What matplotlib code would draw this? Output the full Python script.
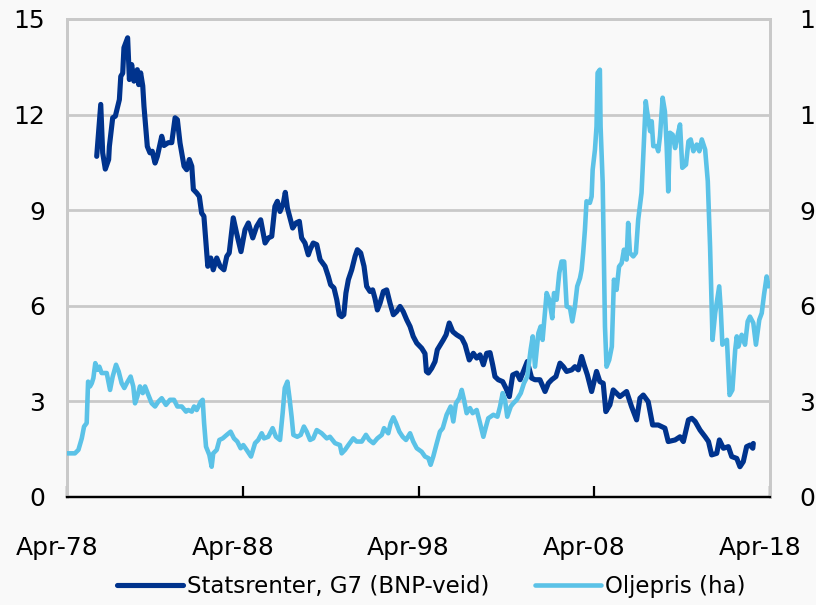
import matplotlib
matplotlib.use("Agg")
import matplotlib.pyplot as plt
import matplotlib.transforms as mtransforms

# ---- data (decimal years, values) ----
g7_x = [1979.94, 1980.17, 1980.28, 1980.43, 1980.62, 1980.66, 1980.85, 1981.00, 1981.23, 1981.31,
        1981.42, 1981.49, 1981.70, 1981.80, 1981.93, 1982.06, 1982.25, 1982.33, 1982.44, 1982.56,
        1982.63, 1982.82, 1982.97, 1983.10, 1983.26, 1983.39, 1983.64, 1983.77, 1984.01, 1984.21,
        1984.40, 1984.53, 1984.68, 1984.91, 1985.06, 1985.21, 1985.35, 1985.44, 1985.63, 1985.78,
        1985.91, 1986.04, 1986.26, 1986.43, 1986.57, 1986.77, 1986.96, 1987.18, 1987.34, 1987.48,
        1987.71, 1987.90, 1988.15, 1988.38, 1988.57, 1988.82, 1989.04, 1989.27, 1989.52, 1989.71,
        1989.90, 1990.08, 1990.22, 1990.37, 1990.56, 1990.67, 1990.79, 1990.94, 1991.09, 1991.28,
        1991.47, 1991.60, 1991.79, 1991.98, 1992.08, 1992.26, 1992.46, 1992.65, 1992.93, 1993.12,
        1993.25, 1993.44, 1993.60, 1993.74, 1993.88, 1994.00, 1994.12, 1994.26, 1994.45, 1994.64,
        1994.77, 1994.96, 1995.15, 1995.30, 1995.49, 1995.64, 1995.77, 1995.91, 1996.06, 1996.25,
        1996.44, 1996.63, 1996.82, 1997.01, 1997.20, 1997.38, 1997.58, 1997.77, 1997.95, 1998.15,
        1998.43, 1998.62, 1998.70, 1998.81, 1999.00, 1999.19, 1999.32, 1999.43, 1999.66, 1999.82,
        2000.00, 2000.20, 2000.42, 2000.71, 2000.90, 2001.14, 2001.37, 2001.56, 2001.75, 2001.94,
        2002.13, 2002.32, 2002.47, 2002.60, 2002.79, 2003.04, 2003.23, 2003.42, 2003.61, 2003.84,
        2004.03, 2004.22, 2004.44, 2004.69, 2004.88, 2005.16, 2005.45, 2005.64, 2005.83, 2006.07,
        2006.30, 2006.49, 2006.68, 2006.97, 2007.15, 2007.34, 2007.53, 2007.67, 2007.86, 2008.10,
        2008.38, 2008.57, 2008.76, 2008.91, 2009.14, 2009.33, 2009.71, 2010.09, 2010.37, 2010.66,
        2010.85, 2011.04, 2011.32, 2011.57, 2011.89, 2012.27, 2012.46, 2012.85, 2013.13, 2013.32,
        2013.61, 2013.80, 2013.99, 2014.27, 2014.56, 2014.75, 2014.93, 2015.22, 2015.37, 2015.60,
        2015.88, 2016.07, 2016.36, 2016.54, 2016.73, 2016.92, 2017.11, 2017.27, 2017.30]
g7_y = [10.69, 12.32, 10.80, 10.29, 10.59, 11.00, 11.90, 11.95, 12.47, 13.20,
        13.30, 14.10, 14.41, 13.10, 13.57, 13.05, 13.41, 12.94, 13.31, 12.90,
        12.26, 11.00, 10.80, 10.85, 10.48, 10.69, 11.32, 11.03, 11.12, 11.12,
        11.90, 11.84, 11.11, 10.38, 10.27, 10.59, 10.38, 9.65, 9.54, 9.43,
        8.91, 8.81, 7.24, 7.50, 7.13, 7.50, 7.24, 7.13, 7.55, 7.66,
        8.76, 8.28, 7.70, 8.39, 8.60, 8.13, 8.49, 8.70, 7.97, 8.13,
        8.18, 9.12, 9.28, 8.96, 9.22, 9.56, 9.07, 8.76, 8.44, 8.60,
        8.65, 8.13, 7.97, 7.60, 7.76, 7.97, 7.92, 7.45, 7.24, 6.92,
        6.66, 6.56, 6.19, 5.72, 5.66, 5.72, 6.40, 6.82, 7.13, 7.55,
        7.76, 7.66, 7.24, 6.61, 6.45, 6.50, 6.24, 5.87, 6.08, 6.45,
        6.50, 6.08, 5.72, 5.82, 5.98, 5.82, 5.56, 5.35, 5.04, 4.83,
        4.67, 4.50, 3.94, 3.89, 4.04, 4.25, 4.62, 4.72, 4.93, 5.09,
        5.46, 5.19, 5.09, 4.99, 4.78, 4.30, 4.51, 4.36, 4.46, 4.15,
        4.51, 4.53, 4.15, 3.78, 3.68, 3.62, 3.41, 3.15, 3.83, 3.89,
        3.68, 3.94, 4.25, 3.73, 3.68, 3.68, 3.31, 3.57, 3.68, 3.78,
        4.20, 4.09, 3.94, 3.99, 4.09, 3.99, 4.41, 4.15, 3.83, 3.31,
        3.94, 3.62, 3.57, 2.68, 2.89, 3.36, 3.15, 3.31, 2.84, 2.42,
        3.10, 3.20, 2.99, 2.26, 2.26, 2.16, 1.74, 1.79, 1.89, 1.74,
        2.42, 2.47, 2.37, 2.10, 1.89, 1.74, 1.32, 1.37, 1.79, 1.53,
        1.58, 1.27, 1.21, 0.95, 1.11, 1.58, 1.63, 1.53, 1.68]

oil_x = [1978.23, 1978.70, 1978.90, 1979.09, 1979.22, 1979.37, 1979.45, 1979.56, 1979.66, 1979.75,
         1979.86, 1979.97, 1980.09, 1980.22, 1980.51, 1980.70, 1980.85, 1981.04, 1981.19, 1981.36,
         1981.51, 1981.65, 1981.87, 1982.02, 1982.12, 1982.25, 1982.40, 1982.56, 1982.69, 1982.88,
         1983.07, 1983.26, 1983.44, 1983.64, 1983.88, 1984.11, 1984.34, 1984.53, 1984.78, 1985.02,
         1985.15, 1985.35, 1985.48, 1985.63, 1985.86, 1985.97, 1986.05, 1986.16, 1986.35, 1986.48,
         1986.57, 1986.77, 1986.92, 1987.11, 1987.34, 1987.56, 1987.75, 1987.94, 1988.13, 1988.28,
         1988.47, 1988.72, 1988.95, 1989.13, 1989.33, 1989.46, 1989.70, 1989.95, 1990.14, 1990.37,
         1990.52, 1990.64, 1990.79, 1990.90, 1991.03, 1991.13, 1991.35, 1991.55, 1991.73, 1991.89,
         1992.08, 1992.26, 1992.46, 1992.74, 1993.03, 1993.21, 1993.50, 1993.78, 1993.88, 1994.07,
         1994.26, 1994.54, 1994.73, 1995.02, 1995.26, 1995.45, 1995.68, 1995.91, 1996.16, 1996.29,
         1996.53, 1996.67, 1996.82, 1996.97, 1997.16, 1997.35, 1997.54, 1997.77, 1997.95, 1998.15,
         1998.43, 1998.62, 1998.81, 1998.94, 1999.09, 1999.29, 1999.47, 1999.63, 1999.85, 2000.08,
         2000.23, 2000.38, 2000.57, 2000.71, 2000.84, 2000.99, 2001.18, 2001.33, 2001.56, 2001.75,
         2001.94, 2002.09, 2002.22, 2002.51, 2002.74, 2002.89, 2003.04, 2003.17, 2003.30, 2003.50,
         2003.64, 2003.84, 2004.07, 2004.25, 2004.44, 2004.63, 2004.75, 2004.88, 2005.07, 2005.20,
         2005.31, 2005.54, 2005.69, 2005.86, 2005.96, 2006.11, 2006.26, 2006.39, 2006.54, 2006.68,
         2006.87, 2007.00, 2007.15, 2007.28, 2007.44, 2007.53, 2007.62, 2007.72, 2007.81, 2008.00,
         2008.10, 2008.16, 2008.29, 2008.38, 2008.44, 2008.57, 2008.61, 2008.73, 2008.86, 2008.95,
         2009.10, 2009.25, 2009.37, 2009.52, 2009.66, 2009.81, 2009.94, 2010.09, 2010.18, 2010.28,
         2010.47, 2010.62, 2010.75, 2010.94, 2011.03, 2011.18, 2011.24, 2011.43, 2011.52, 2011.61,
         2011.80, 2011.89, 2011.99, 2012.14, 2012.27, 2012.37, 2012.46, 2012.56, 2012.71, 2012.85,
         2012.98, 2013.13, 2013.26, 2013.47, 2013.61, 2013.74, 2013.89, 2014.08, 2014.23, 2014.37,
         2014.56, 2014.71, 2014.84, 2014.98, 2015.13, 2015.36, 2015.45, 2015.54, 2015.80, 2015.95,
         2016.11, 2016.27, 2016.36, 2016.45, 2016.64, 2016.83, 2016.98, 2017.11, 2017.30, 2017.45,
         2017.64, 2017.78, 2017.91, 2018.06, 2018.16, 2018.25]
oil_y = [13.7, 13.7, 14.8, 18.4, 22.1, 23.2, 36.2, 34.7, 35.7, 37.3,
         42.0, 39.9, 40.9, 38.9, 38.9, 33.6, 37.8, 41.5, 39.4, 35.7,
         34.2, 35.7, 37.8, 34.7, 29.4, 31.5, 34.7, 32.6, 34.7, 32.0,
         29.4, 28.4, 29.9, 31.0, 28.9, 30.5, 30.5, 28.4, 28.4, 26.8,
         27.3, 26.8, 28.4, 27.3, 29.9, 30.5, 23.2, 15.8, 13.2, 9.5,
         13.7, 14.8, 17.9, 18.4, 19.5, 20.5, 18.4, 17.4, 15.3, 16.3,
         14.8, 12.7, 16.9, 17.9, 20.0, 18.4, 18.9, 21.6, 18.9, 17.9,
         26.3, 34.2, 36.2, 31.5, 25.2, 19.5, 18.9, 19.5, 22.1, 20.5,
         17.9, 18.4, 21.0, 20.0, 18.4, 18.9, 16.9, 16.3, 13.7, 14.8,
         16.3, 18.4, 17.4, 17.4, 19.5, 17.9, 16.9, 18.4, 19.5, 21.6,
         20.0, 23.2, 25.0, 23.2, 20.5, 18.9, 17.9, 20.0, 17.4, 15.3,
         14.2, 12.7, 12.2, 10.1, 12.7, 16.9, 20.5, 21.6, 25.8, 28.4,
         23.7, 29.4, 31.0, 33.6, 30.5, 26.3, 27.9, 26.3, 27.3, 23.2,
         18.9, 22.1, 24.7, 25.8, 25.2, 28.4, 32.6, 30.5, 25.2, 28.4,
         29.4, 30.5, 32.6, 35.7, 37.8, 46.2, 50.4, 40.9, 51.4, 53.5,
         49.3, 64.0, 61.9, 56.1, 64.0, 61.9, 70.3, 73.9, 73.9, 59.8,
         59.3, 55.1, 59.8, 66.1, 68.7, 71.3, 76.6, 83.9, 92.8, 92.3,
         94.3, 102.7, 109.0, 116.3, 133.1, 134.1, 116.3, 98.6, 53.5, 40.9,
         43.0, 47.2, 68.2, 65.0, 72.3, 73.4, 77.6, 74.5, 86.0, 76.6,
         75.5, 76.6, 87.0, 95.4, 105.9, 124.2, 121.6, 114.8, 117.9, 110.1,
         110.1, 108.5, 113.2, 125.3, 121.0, 110.1, 95.9, 114.3, 113.7, 109.5,
         113.2, 116.9, 103.3, 104.3, 111.6, 112.2, 108.5, 110.6, 108.5, 112.2,
         109.0, 99.1, 78.6, 49.3, 57.7, 66.1, 58.7, 47.8, 49.3, 32.0,
         33.6, 46.2, 50.4, 47.2, 50.9, 47.8, 55.1, 56.6, 54.6, 47.8,
         55.6, 57.7, 63.5, 69.2, 66.1, 67.1]

x_ticks = [1978.25, 1988.25, 1998.25, 2008.25, 2018.25]
x_labels = ["Apr-78", "Apr-88", "Apr-98", "Apr-08", "Apr-18"]
left_ticks = [0, 3, 6, 9, 12, 15]
right_ticks = [0, 30, 60, 90, 120, 150]
series_names = ["Statsrenter, G7 (BNP-veid)", "Oljepris (ha)"]

# ---- style ----
BG = "#f9f9f9"
DARK = "#00338d"
LIGHT = "#5bc2e7"
GRID = "#c9c9c9"
FS = 18
plt.rcParams["font.family"] = ["DejaVu Sans"]

fig = plt.figure(figsize=(8.16, 6.05), dpi=100, facecolor=BG)
ax = fig.add_axes([67/816, 1-497/605, (770-67)/816, (497-19)/605])
ax.set_facecolor(BG)
ax2 = ax.twinx()

l1, = ax.plot(g7_x, g7_y, color=DARK, lw=3.7, solid_joinstyle="round", solid_capstyle="round", zorder=3)
l2, = ax2.plot(oil_x, oil_y, color=LIGHT, lw=3.3, solid_joinstyle="round", solid_capstyle="round", zorder=3)

ax.set_xlim(x_ticks[0], x_ticks[-1])
ax.set_ylim(0, 15)
ax2.set_ylim(0, 150)
ax.set_yticks(left_ticks)
ax2.set_yticks(right_ticks)
ax.set_xticks(x_ticks)
ax.set_xticklabels(x_labels)

for y in left_ticks[1:]:
    ax.axhline(y, color=GRID, lw=2.0, zorder=1)

for a in (ax, ax2):
    for s in ("left", "right", "top"):
        a.spines[s].set_color(GRID)
        a.spines[s].set_linewidth(2.0)
    a.spines["bottom"].set_color("black")
    a.spines["bottom"].set_linewidth(1.6)
    a.tick_params(axis="y", length=0, labelsize=FS, colors="black")

ax.tick_params(axis="y", pad=16)
ax2.tick_params(axis="y", pad=21)
ax.tick_params(axis="x", direction="in", length=8, width=1.6, pad=28, labelsize=FS)

offset = mtransforms.ScaledTranslation(-10/100, 0, fig.dpi_scale_trans)
for lab in ax.get_xticklabels():
    lab.set_transform(lab.get_transform() + offset)

fig.legend([l1, l2], series_names, loc="center", bbox_to_anchor=(431/816, 1-587/605),
           ncol=2, frameon=False, fontsize=16.5, handlelength=2.9, handletextpad=0.15,
           columnspacing=2.0, borderaxespad=0)

fig.savefig("out.png", dpi=100, facecolor=BG)
